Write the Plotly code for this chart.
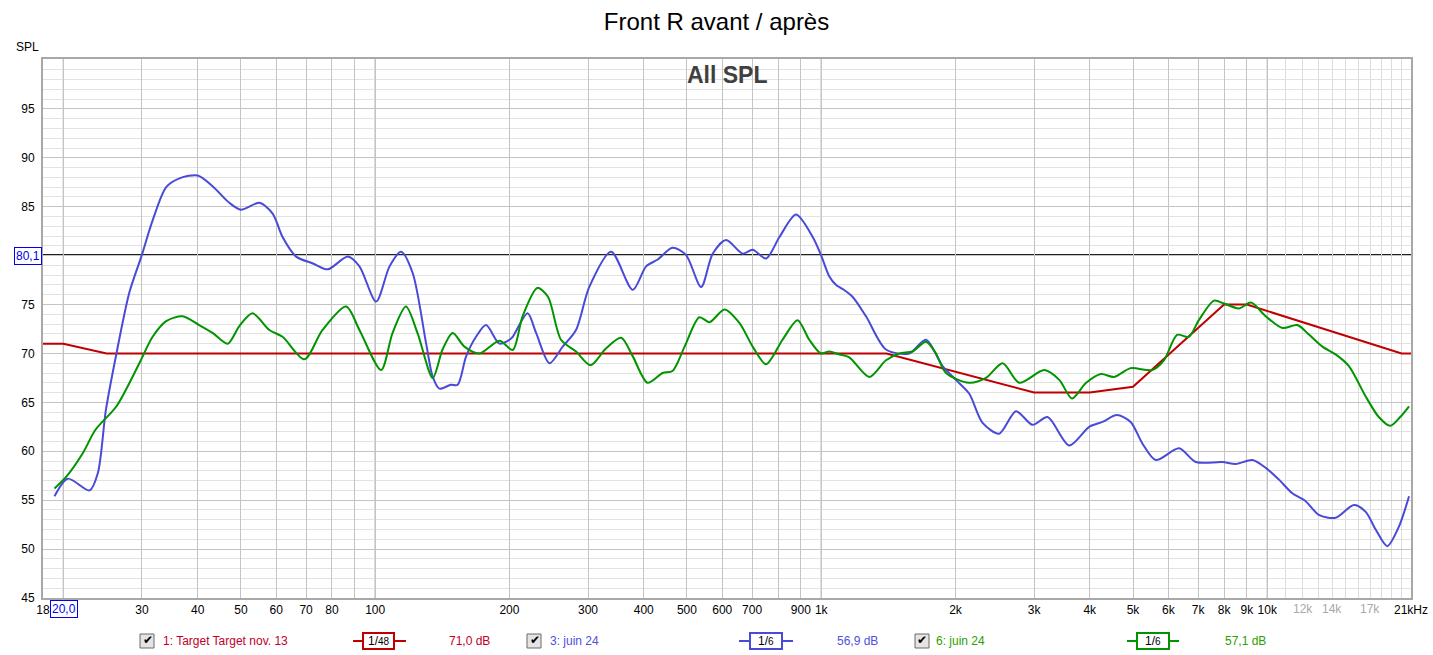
import math
import plotly.graph_objects as go

# ---------------- data ----------------
chart_title = "Front R avant / après"
panel_label = "All SPL"

target_freq = [18, 20, 25, 1400, 3000, 4000, 5000, 8000, 9000, 20000, 21000]
target_db = [71, 71, 70, 70, 66, 66, 66.6, 75, 75, 70, 70]

blue_freq = [19.1, 20.45, 22.9, 23.9, 24.9, 26.3, 28.1, 29.9, 31.7, 34.0, 36.4, 40.0, 43.2, 47.1,
             50.0, 55.0, 58.9, 62.0, 66.5, 72.5, 78.3, 86.8, 92.2, 100.5, 107.7, 114.3, 121.4,
             130.1, 134.6, 139.3, 147.9, 153.1, 159.9, 168.3, 177.3, 189.9, 200, 203.4, 219.6,
             229.5, 245.9, 263.3, 282, 302, 338, 378, 405, 430, 464, 497, 538, 571, 612, 667,
             702, 752, 806, 878, 957, 1000, 1042, 1080, 1116, 1175, 1260, 1397, 1575, 1717,
             1871, 2004, 2146, 2300, 2506, 2733, 2977, 3217, 3597, 3988, 4270, 4600, 4940,
             5248, 5624, 6342, 6912, 7933, 8495, 9260, 9922, 10620, 11380, 12190, 13050,
             14230, 15640, 16620, 17500, 18580, 19730, 20790]
blue_db = [55.4, 57.2, 56.0, 57.8, 64.2, 70.0, 76.2, 79.9, 83.6, 87.0, 87.9, 88.2, 87.1, 85.4,
           84.7, 85.4, 84.3, 81.9, 79.9, 79.2, 78.6, 79.9, 78.9, 75.3, 78.9, 80.4, 78.2,
           71.0, 67.6, 66.4, 66.8, 66.8, 69.7, 71.7, 72.9, 71.0, 71.4, 71.7, 74.1,
           72.1, 69.0, 70.7, 72.4, 76.8, 80.4, 76.5, 78.9, 79.6, 80.8, 80.1, 76.8, 80.2, 81.6, 80.2,
           80.6, 79.7, 81.9, 84.2, 81.9, 80.0, 77.9, 77.0, 76.6, 75.8, 73.8, 70.4, 70.0, 71.4,
           68.7, 67.3, 65.9, 62.9, 61.8, 64.1, 62.7, 63.5, 60.6, 62.5, 63.0, 63.7, 63.0,
           60.8, 59.1, 60.3, 58.9, 58.9, 58.7, 59.1, 58.3, 57.1, 55.7, 54.9, 53.5,
           53.2, 54.5, 53.8, 52.0, 50.3, 52.3, 55.4]

green_freq = [19.1, 20.3, 22.1, 23.6, 26.3, 29.6, 31.7, 34.0, 37.0, 40.3, 43.2, 46.7, 49.6, 53.1,
              57.9, 62.0, 69.4, 76.2, 86.1, 92.2, 103.1, 109.4, 117.2, 124.4, 134.6, 141.6,
              149.2, 158.5, 171.4, 189.9, 203.4, 214, 231, 244, 261, 282, 304, 329, 356, 378,
              408, 441, 464, 494, 533, 562, 607, 656, 702, 752, 819, 885, 940, 998, 1042, 1098,
              1156, 1281, 1397, 1496, 1603, 1717, 1808, 1904, 2146, 2340, 2551, 2780, 3162,
              3417, 3649, 3925, 4237, 4536, 4940, 5516, 5866, 6279, 6670, 7025, 7597, 7998,
              8645, 9190, 9922, 10810, 11680, 12420, 13290, 14230, 15240, 16620, 17780,
              18860, 19860, 20790]
green_db = [56.2, 57.4, 59.8, 62.2, 64.6, 69.0, 71.7, 73.3, 73.8, 72.9, 72.1, 71.0, 72.8, 74.1,
            72.4, 71.7, 69.4, 72.4, 74.8, 72.4, 68.3, 72.1, 74.8, 72.1, 67.5, 70.4,
            72.1, 70.7, 70.0, 71.3, 70.35, 73.8, 76.7, 75.8, 71.4, 70.2, 68.8, 70.5, 71.6, 69.7,
            67.0, 68.0, 68.2, 70.7, 73.7, 73.2, 74.5, 73.1, 70.7, 68.9, 71.4, 73.4, 71.4, 70.0, 70.2, 69.9,
            69.6, 67.6, 69.3, 70.0, 70.2, 71.2, 70.0, 68.0, 67.0, 67.5, 69.0, 67.0, 68.3,
            67.3, 65.4, 67.0, 67.9, 67.6, 68.5, 68.3, 69.3, 71.9, 71.7, 73.4, 75.4, 75.1,
            74.6, 75.2, 73.8, 72.6, 72.9, 71.9, 70.7, 69.9, 68.7, 65.6, 63.5,
            62.6, 63.5, 64.6]

x_grid = [18, 20, 30, 40, 50, 60, 70, 80, 90, 100, 200, 300, 400, 500, 600, 700, 800, 900,
          1000, 2000, 3000, 4000, 5000, 6000, 7000, 8000, 9000, 10000, 21000]
x_labels = ["18", "", "30", "40", "50", "60", "70", "80", "", "100", "200", "300", "400", "500",
            "600", "700", "", "900", "1k", "2k", "3k", "4k", "5k", "6k", "7k", "8k", "9k", "10k",
            "21kHz"]
# lighter grid above 10 kHz, with greyed labels
x_fine_grid = [11000, 12000, 13000, 14000, 15000, 16000, 17000, 18000, 19000, 20000]
x_fine_labels = {12000: "12k", 14000: "14k", 17000: "17k"}

y_ticks = [45, 50, 55, 60, 65, 70, 75, 80, 85, 90, 95]
# the 80 label is hidden behind the cursor value box in the reference
y_labels = ["45", "50", "55", "60", "65", "70", "75", "", "85", "90", "95"]

cursor_freq = 20.0
cursor_db = 80.1

legend_names = ["1: Target Target nov. 13", "3: juin 24", "6: juin 24"]
legend_smooth = ["48", "6", "6"]
legend_levels = ["71,0 dB", "56,9 dB", "57,1 dB"]

# ---------------- styles ----------------
RED = "#bf0000"
BLUE = "#4a4ad8"
GREEN = "#009400"
FONT = "Liberation Sans, Arial, sans-serif"

W, H = 1433, 655
L, R, T, B = 43, 22, 59, 57
PW, PH = W - L - R, H - T - B


def X(px):
    return (px - L) / PW


def Y(py):
    return (H - B - py) / PH


fig = go.Figure()
fig.add_trace(go.Scatter(x=target_freq, y=target_db, mode="lines",
                         line=dict(color=RED, width=2), hoverinfo="skip"))
fig.add_trace(go.Scatter(x=blue_freq, y=blue_db, mode="lines",
                         line=dict(color=BLUE, width=2, shape="spline", smoothing=0.8),
                         hoverinfo="skip"))
fig.add_trace(go.Scatter(x=green_freq, y=green_db, mode="lines",
                         line=dict(color=GREEN, width=2, shape="spline", smoothing=0.8),
                         hoverinfo="skip"))

shapes = []
# darker decade grid lines
for f in [100, 1000, 10000]:
    shapes.append(dict(type="line", xref="x", yref="paper", x0=f, x1=f, y0=0, y1=1,
                       line=dict(color="#8c8c8c", width=1), layer="between"))
# cursor lines
shapes.append(dict(type="line", xref="paper", yref="y", x0=0, x1=1, y0=cursor_db, y1=cursor_db,
                   line=dict(color="black", width=1), layer="between"))
shapes.append(dict(type="line", xref="x", yref="paper", x0=cursor_freq, x1=cursor_freq, y0=0, y1=1,
                   line=dict(color="black", width=1), layer="between"))

annotations = []
annotations.append(dict(text="<b>" + panel_label + "</b>", xref="paper", yref="paper",
                        x=X(727), y=Y(75), showarrow=False,
                        font=dict(family=FONT, size=23, color="#404040"),
                        xanchor="center", yanchor="middle"))
annotations.append(dict(text="SPL", xref="paper", yref="paper", x=X(27), y=Y(47),
                        showarrow=False, font=dict(family=FONT, size=12, color="black"),
                        xanchor="center", yanchor="middle"))
# greyed tick labels above 10 kHz
for f, lab in x_fine_labels.items():
    annotations.append(dict(text=lab, xref="x", yref="paper", x=math.log10(f), y=Y(609),
                            showarrow=False, font=dict(family=FONT, size=12, color="#a8a8a8"),
                            xanchor="center", yanchor="middle"))
# cursor value boxes
annotations.append(dict(text="80,1", xref="paper", yref="paper", x=X(27.5), y=Y(256),
                        showarrow=False, font=dict(family=FONT, size=12, color="#0000ee"),
                        bgcolor="white", bordercolor="#0000ee", borderwidth=1, borderpad=1,
                        xanchor="center", yanchor="middle"))
annotations.append(dict(text="20,0", xref="paper", yref="paper", x=X(63.5), y=Y(609),
                        showarrow=False, font=dict(family=FONT, size=12, color="#0000ee"),
                        bgcolor="white", bordercolor="#0000ee", borderwidth=1, borderpad=1,
                        xanchor="center", yanchor="middle"))

# legend row
leg_y = 641
items = [
    dict(cb=140, text_x=161, col_text="#c0002a", col_line=RED, sym=(353, 406, 363, 394), lvl_x=447),
    dict(cb=527, text_x=548, col_text="#5050e0", col_line=BLUE, sym=(739, 793, 750, 782), lvl_x=835),
    dict(cb=915, text_x=934, col_text="#2ea000", col_line=GREEN, sym=(1127, 1179, 1137, 1169), lvl_x=1223),
]
for i, it in enumerate(items):
    cb = it["cb"]
    shapes.append(dict(type="rect", xref="paper", yref="paper", x0=X(cb), x1=X(cb + 14),
                       y0=Y(leg_y - 7), y1=Y(leg_y + 7), fillcolor="#e4e4e4",
                       line=dict(color="#6a6a6a", width=1), layer="above"))
    annotations.append(dict(text="✔", xref="paper", yref="paper", x=X(cb + 7.5), y=Y(leg_y - 1),
                            showarrow=False, font=dict(family="DejaVu Sans", size=12, color="black"),
                            xanchor="center", yanchor="middle"))
    annotations.append(dict(text=legend_names[i], xref="paper", yref="paper", x=X(it["text_x"]),
                            y=Y(leg_y), showarrow=False,
                            font=dict(family=FONT, size=12, color=it["col_text"]),
                            xanchor="left", yanchor="middle"))
    lx0, lx1, bx0, bx1 = it["sym"]
    shapes.append(dict(type="line", xref="paper", yref="paper", x0=X(lx0), x1=X(lx1),
                       y0=Y(leg_y), y1=Y(leg_y), line=dict(color=it["col_line"], width=2), layer="above"))
    shapes.append(dict(type="rect", xref="paper", yref="paper", x0=X(bx0), x1=X(bx1),
                       y0=Y(leg_y - 8), y1=Y(leg_y + 8), fillcolor="white",
                       line=dict(color=it["col_line"], width=2), layer="above"))
    annotations.append(dict(text="<span style='font-size:12px'>1</span>/<span style='font-size:10px'>"
                                 + legend_smooth[i] + "</span>",
                            xref="paper", yref="paper", x=X((bx0 + bx1) / 2), y=Y(leg_y),
                            showarrow=False, font=dict(family=FONT, size=12, color="black"),
                            xanchor="center", yanchor="middle"))
    annotations.append(dict(text=legend_levels[i], xref="paper", yref="paper", x=X(it["lvl_x"]),
                            y=Y(leg_y), showarrow=False,
                            font=dict(family=FONT, size=12, color=it["col_text"]),
                            xanchor="left", yanchor="middle"))

fig.update_layout(
    width=W, height=H,
    margin=dict(l=L, r=R, t=T, b=B, autoexpand=False),
    paper_bgcolor="white", plot_bgcolor="white",
    showlegend=False,
    title=dict(text=chart_title, x=0.5, xanchor="center", xref="container",
               y=1 - 22 / H, yanchor="middle", yref="container",
               font=dict(family=FONT, size=24, color="black")),
    font=dict(family=FONT, size=12, color="black"),
    shapes=shapes,
    annotations=annotations,
)
fig.update_xaxes(
    type="log", range=[math.log10(18), math.log10(21000)],
    tickmode="array", tickvals=x_grid, ticktext=x_labels,
    showgrid=True, gridcolor="#c4c4c4", gridwidth=1,
    minor=dict(tickmode="array", tickvals=x_fine_grid, showgrid=True, gridcolor="#dcdcdc", ticks=""),
    showline=True, mirror=True, linecolor="#a8a8a8", linewidth=2,
    ticks="", ticklabelstandoff=0, zeroline=False, automargin=False,
    tickfont=dict(family=FONT, size=12, color="black"),
)
fig.update_yaxes(
    range=[45, 100.1],
    tickmode="array", tickvals=y_ticks, ticktext=y_labels,
    showgrid=True, gridcolor="#c4c4c4", gridwidth=1,
    minor=dict(tickmode="linear", tick0=45, dtick=1, showgrid=True, gridcolor="#e2e2e2", ticks=""),
    showline=True, mirror=True, linecolor="#a8a8a8", linewidth=2,
    ticks="", ticklabelstandoff=4, zeroline=False, automargin=False,
    tickfont=dict(family=FONT, size=12, color="black"),
)

fig.write_html("out.html", config={"displayModeBar": False},
               post_script="document.body.style.margin='0px';document.body.style.overflow='hidden';")
